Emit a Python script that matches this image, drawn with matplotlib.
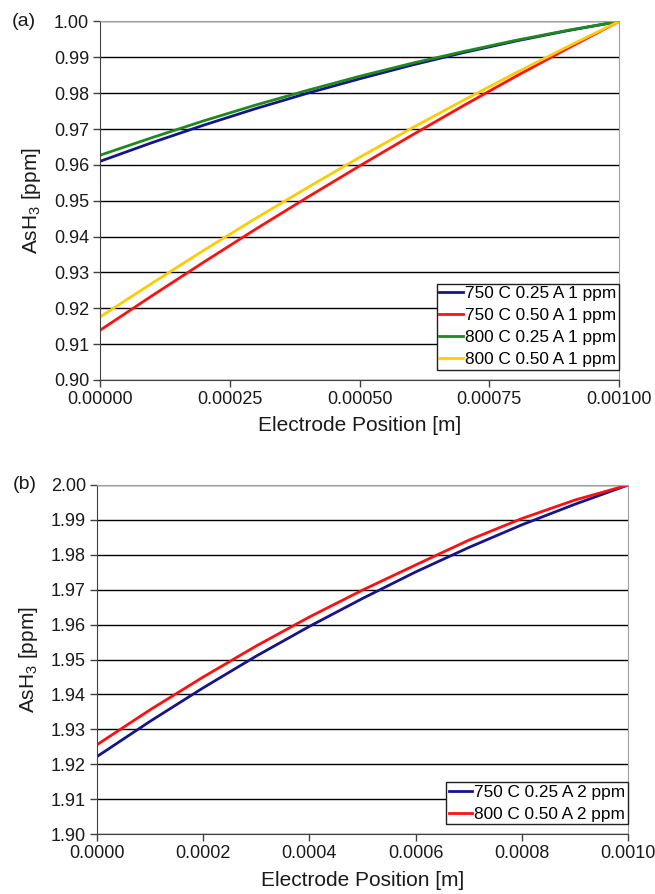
import numpy as np
import matplotlib
matplotlib.use("Agg")
import matplotlib.pyplot as plt
from matplotlib.ticker import FormatStrFormatter, MultipleLocator

plt.rcParams["font.family"] = ["Liberation Sans", "DejaVu Sans"]
plt.rcParams["mathtext.default"] = "regular"

# electrode position [m]
pos = [0.0, 0.0001, 0.0002, 0.0003, 0.0004, 0.0005,
       0.0006, 0.0007, 0.0008, 0.0009, 0.0010]

# panel (a): 1 ppm inlet
a_750_025 = [0.9610, 0.9662, 0.9711, 0.9757, 0.9800, 0.9840,
             0.9878, 0.9913, 0.9945, 0.9974, 1.0000]
a_750_050 = [0.9139, 0.9235, 0.9329, 0.9421, 0.9510, 0.9597,
             0.9682, 0.9765, 0.9846, 0.9924, 1.0000]
a_800_025 = [0.9627, 0.9676, 0.9723, 0.9767, 0.9808, 0.9847,
             0.9883, 0.9916, 0.9947, 0.9975, 1.0000]
a_800_050 = [0.9176, 0.9270, 0.9362, 0.9451, 0.9537, 0.9621,
             0.9702, 0.9780, 0.9856, 0.9929, 1.0000]

# panel (b): 2 ppm inlet
b_750_025 = [1.9222, 1.9323, 1.9419, 1.9510, 1.9595, 1.9675,
             1.9751, 1.9821, 1.9886, 1.9945, 2.0000]
b_800_050 = [1.9256, 1.9356, 1.9450, 1.9539, 1.9622, 1.9699,
             1.9771, 1.9842, 1.9904, 1.9957, 2.0000]

navy = "#14148c"
red = "#ff1010"
green = "#1e8a1e"
yellow = "#ffcc00"

fig = plt.figure(figsize=(6.55, 8.94), dpi=100)
ax1 = fig.add_axes([0.153, 0.575, 0.792, 0.401])
ax2 = fig.add_axes([0.148, 0.067, 0.811, 0.3905])


def style(ax, ymin, ymax, xstep, xfmt):
    ax.set_xlim(0, 0.001)
    ax.set_ylim(ymin, ymax)
    ax.yaxis.set_major_locator(MultipleLocator(0.01))
    ax.xaxis.set_major_locator(MultipleLocator(xstep))
    ax.yaxis.set_major_formatter(FormatStrFormatter("%.2f"))
    ax.xaxis.set_major_formatter(FormatStrFormatter(xfmt))
    ax.grid(axis="y", color="black", linewidth=1.0, zorder=0)
    ax.set_axisbelow(True)
    ax.spines["left"].set_color("#404040")
    ax.spines["bottom"].set_color("#404040")
    ax.spines["top"].set_color("#a0a0a0")
    ax.spines["right"].set_color("#a0a0a0")
    ax.tick_params(direction="out", length=5, width=1, colors="#404040",
                   labelcolor="#1a1a1a", labelsize=13, pad=3)
    ax.set_xlabel("Electrode Position [m]", fontsize=15, labelpad=6,
                  color="#1a1a1a")
    ax.set_ylabel("AsH$_3$ [ppm]", fontsize=15, labelpad=8, color="#1a1a1a")


ax1.plot(pos, a_750_025, color=navy, lw=2, label="750 C 0.25 A 1 ppm")
ax1.plot(pos, a_750_050, color=red, lw=2, label="750 C 0.50 A 1 ppm")
ax1.plot(pos, a_800_025, color=green, lw=2, label="800 C 0.25 A 1 ppm")
ax1.plot(pos, a_800_050, color=yellow, lw=2, label="800 C 0.50 A 1 ppm")
style(ax1, 0.90, 1.00, 0.00025, "%.5f")

ax2.plot(pos, b_750_025, color=navy, lw=2, label="750 C 0.25 A 2 ppm")
ax2.plot(pos, b_800_050, color=red, lw=2, label="800 C 0.50 A 2 ppm")
style(ax2, 1.90, 2.00, 0.0002, "%.4f")

for ax in (ax1, ax2):
    leg = ax.legend(loc="lower right", bbox_to_anchor=(1.0, 0.028),
                    fontsize=12.4, handlelength=1.35, handletextpad=0.15,
                    borderpad=0.15, labelspacing=0.4, borderaxespad=0,
                    fancybox=False, framealpha=1)
    leg.get_frame().set_edgecolor("#202020")
    leg.get_frame().set_linewidth(1.0)

fig.text(0.018, 0.976, "(a)", fontsize=14, va="center", color="#1a1a1a")
fig.text(0.020, 0.4575, "(b)", fontsize=14, va="center", color="#1a1a1a")

fig.savefig("out.png", dpi=100)
